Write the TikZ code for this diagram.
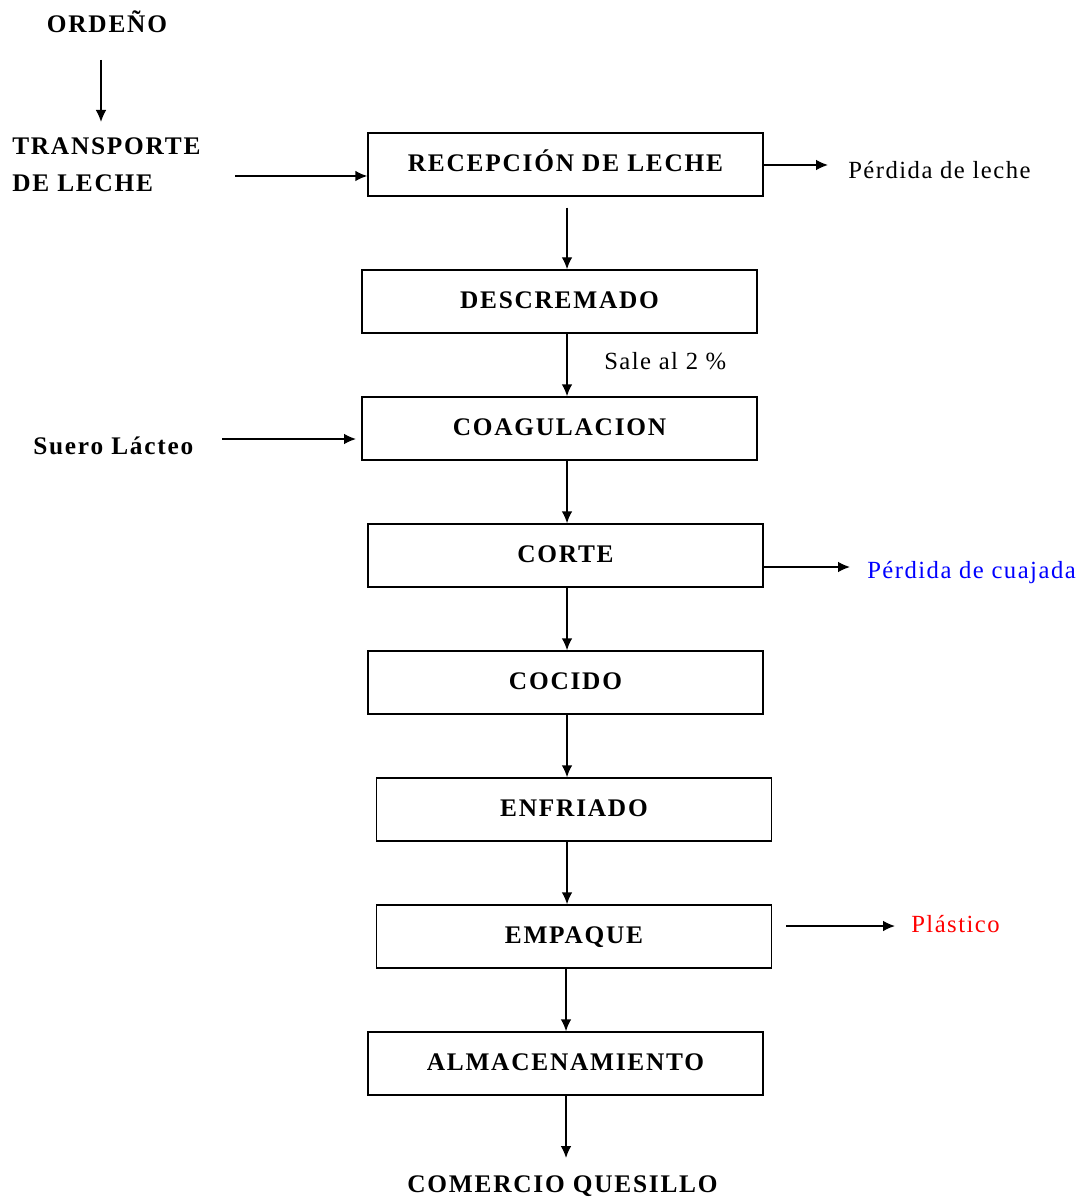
\documentclass[tikz,border=0pt]{standalone}
\usepackage{fontspec}
\setmainfont{Liberation Serif}
\newfontfamily\boldwide[LetterSpace=7]{Liberation Serif Bold}
\newfontfamily\thinwide[LetterSpace=6]{Liberation Serif}
\usetikzlibrary{arrows.meta}
\definecolor{lossblue}{RGB}{0,0,255}
\definecolor{lossred}{RGB}{255,0,0}
\begin{document}
\begin{tikzpicture}[x=0.75pt,y=-0.75pt,
  procbox/.style={draw,line width=1.1pt,minimum width=395*0.75pt,minimum height=63*0.75pt,inner sep=0pt,text height=12pt,text depth=2pt,font=\boldwide\fontsize{19}{23}\selectfont},
  boldlabel/.style={inner sep=0pt,font=\boldwide\fontsize{19}{27.75}\selectfont},
  thinlabel/.style={inner sep=0pt,font=\thinwide\fontsize{18.5}{23}\selectfont},
  flow/.style={line width=1.1pt,-{Latex[length=9pt,width=8pt]}}]
\useasboundingbox (0,0) rectangle (1086,1201);
% process boxes
\node[procbox] (rec) at (565.5,164.5) {RECEPCIÓN DE LECHE};
\node[procbox] (des) at (559.5,301.5) {DESCREMADO};
\node[procbox] (coa) at (559.5,428.5) {COAGULACION};
\node[procbox] (cor) at (565.5,555.5) {CORTE};
\node[procbox] (coc) at (565.5,682.5) {COCIDO};
\node[procbox] (enf) at (574,809.5) {ENFRIADO};
\node[procbox] (emp) at (574,936.5) {EMPAQUE};
\node[procbox] (alm) at (565.5,1063.5) {ALMACENAMIENTO};
% free labels
\node[boldlabel] (ord) at (107,22) {ORDEÑO};
\node[boldlabel,anchor=west,align=left] (tra) at (12,164.5) {TRANSPORTE\\DE LECHE};
\node[boldlabel,anchor=west] (sue) at (33,446) {Suero Lácteo};
\node[boldlabel] (com) at (562.5,1186) {COMERCIO QUESILLO};
\node[thinlabel,anchor=west] (pl) at (848,170) {Pérdida de leche};
\node[thinlabel,anchor=west] (sal) at (604,361) {Sale al 2 \%};
\node[thinlabel,anchor=west,text=lossblue] (pc) at (867,573) {Pérdida de cuajada};
\node[thinlabel,anchor=west,text=lossred] (pla) at (911,924) {Plástico};
% spine coordinates
\coordinate (sp) at (567,0);
\coordinate (sp2) at (566,0);
% vertical flow
\coordinate (o1) at (101,60);
\coordinate (o2) at (101,122);
\draw[flow] (o1) -- (o2);
\draw[flow,shorten <=11*0.75pt] (rec.south -| sp) -- (des.north -| sp);
\draw[flow] (des.south -| sp) -- (coa.north -| sp);
\draw[flow] (coa.south -| sp) -- (cor.north -| sp);
\draw[flow] (cor.south -| sp) -- (coc.north -| sp);
\draw[flow] (coc.south -| sp) -- (enf.north -| sp);
\draw[flow] (enf.south -| sp) -- (emp.north -| sp);
\draw[flow] (emp.south -| sp2) -- (alm.north -| sp2);
\coordinate (comtop) at (566,1158);
\draw[flow] (alm.south -| sp2) -- (comtop);
% side flows
\coordinate (traend) at (235,176);
\draw[flow] (traend) -- (traend -| rec.west);
\coordinate (sueend) at (222,439);
\coordinate (sueto) at (356,439);
\draw[flow] (sueend) -- (sueto);
\coordinate (plx) at (828,165);
\draw[flow] (rec.east |- plx) -- (plx);
\coordinate (pcx) at (850,567);
\draw[flow] (cor.east |- pcx) -- (pcx);
\coordinate (plax) at (895,926);
\coordinate (plas) at (786,926);
\draw[flow] (plas) -- (plax);
\end{tikzpicture}
\end{document}
